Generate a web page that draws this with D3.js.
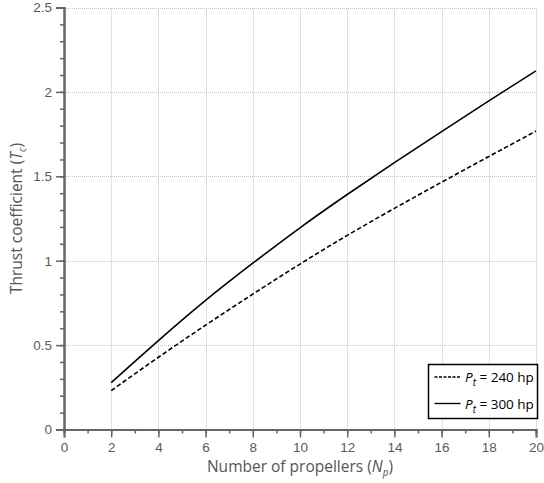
<!DOCTYPE html>
<html>
<head>
<meta charset="utf-8">
<script src="https://cdn.jsdelivr.net/npm/d3@7"></script>
<style>
  body { margin: 0; background: #fff; }
  svg { font-family: "Open Sans", "Noto Sans", sans-serif; }
</style>
</head>
<body>
<svg id="chart" width="544" height="483"></svg>
<script>
// number of propellers
const propellers = [2, 4, 6, 8, 10, 12, 14, 16, 18, 20];
// thrust coefficient, P_t = 240 hp (dashed)
const thrust240 = [0.230, 0.428, 0.618, 0.802, 0.980, 1.150, 1.310, 1.465, 1.617, 1.768];
// thrust coefficient, P_t = 300 hp (solid)
const thrust300 = [0.278, 0.527, 0.765, 0.985, 1.195, 1.392, 1.581, 1.765, 1.947, 2.125];
const xTicks = [0, 2, 4, 6, 8, 10, 12, 14, 16, 18, 20];
const yTicks = [0, 0.5, 1, 1.5, 2, 2.5];
const legendLabels = ["240 hp", "300 hp"];

const svg = d3.select('#chart');
const mLeft = 64, mRight = 536, mTop = 7.5, mBottom = 429.5;

const x = d3.scaleLinear().domain([0, 20]).range([mLeft, mRight]);
const y = d3.scaleLinear().domain([0, 2.5]).range([mBottom, mTop]);

//网格
const grid = svg.append('g').attr('class', 'grid')
    .attr('stroke', '#c4c4c4').attr('stroke-width', 1).attr('stroke-dasharray', '1,1');
grid.selectAll('line.gx').data(xTicks.filter(d => d > 0)).enter()
    .append('line').attr('class', 'gx')
    .attr('x1', d => Math.round(x(d)) + 0.5).attr('x2', d => Math.round(x(d)) + 0.5)
    .attr('y1', mTop).attr('y2', mBottom);
grid.selectAll('line.gy').data(yTicks.filter(d => d > 0)).enter()
    .append('line').attr('class', 'gy')
    .attr('y1', d => Math.round(y(d)) + 0.5).attr('y2', d => Math.round(y(d)) + 0.5)
    .attr('x1', mLeft).attr('x2', mRight);

//坐标轴
const axisColor = '#666';
const xAxis = svg.append('g')
    .attr('transform', `translate(0,${mBottom})`)
    .call(d3.axisBottom(x).tickValues(d3.range(0, 21, 1)).tickSize(4).tickFormat(''));
xAxis.append('g')
    .call(d3.axisBottom(x).tickValues(xTicks).tickSize(8).tickPadding(5).tickFormat(d3.format('d')));
const yAxis = svg.append('g')
    .attr('transform', `translate(${mLeft},0)`)
    .call(d3.axisLeft(y).tickValues(d3.range(0, 2.51, 0.1)).tickSize(4).tickFormat(''));
yAxis.append('g')
    .call(d3.axisLeft(y).tickValues(yTicks).tickSize(8).tickPadding(4).tickFormat(d3.format('')));
svg.selectAll('.domain').attr('stroke', axisColor).attr('stroke-width', 2);
svg.selectAll('.tick line').attr('stroke', axisColor).attr('stroke-width', 1.5);
svg.selectAll('.tick text').attr('fill', '#5a5a5a').style('font-size', '13.5px');

//曲线
const line = d3.line().x((d, i) => x(propellers[i])).y(d => y(d)).curve(d3.curveNatural);
svg.append('path').datum(thrust240)
    .attr('fill', 'none').attr('stroke', '#000').attr('stroke-width', 1.6)
    .attr('stroke-dasharray', '4.5,2.5').attr('d', line);
svg.append('path').datum(thrust300)
    .attr('fill', 'none').attr('stroke', '#000').attr('stroke-width', 1.6)
    .attr('d', line);

//轴标题
svg.append('text')
    .attr('x', (mLeft + mRight) / 2).attr('y', 472)
    .attr('text-anchor', 'middle').attr('fill', '#555').style('font-size', '15.5px')
    .html('Number of propellers (<tspan font-style="italic">N</tspan><tspan font-style="italic" font-size="10px" dy="4">p</tspan><tspan dy="-4">)</tspan>');
svg.append('text')
    .attr('transform', `translate(22,${(mTop + mBottom) / 2}) rotate(-90)`)
    .attr('text-anchor', 'middle').attr('fill', '#555').style('font-size', '15.5px')
    .html('Thrust coefficient (<tspan font-style="italic">T</tspan><tspan font-style="italic" font-size="10px" dy="4">c</tspan><tspan dy="-4">)</tspan>');

//图例
const legend = svg.append('g').attr('transform', 'translate(428.5,364.5)');
legend.append('rect').attr('width', 109).attr('height', 54)
    .attr('fill', '#fff').attr('stroke', '#000').attr('stroke-width', 1.5);
legendLabels.forEach((lab, i) => {
    const ly = 12.5 + i * 26.5;
    legend.append('line').attr('x1', 6).attr('x2', 32).attr('y1', ly).attr('y2', ly)
        .attr('stroke', '#000').attr('stroke-width', 1.4)
        .attr('stroke-dasharray', i === 0 ? '3,1.5' : null);
    legend.append('text').attr('x', 36.5).attr('y', ly + 5)
        .attr('fill', '#000').style('font-size', '13.5px')
        .html(`<tspan font-style="italic">P</tspan><tspan font-style="italic" font-size="10px" dy="4">t</tspan><tspan dy="-4"> = ${lab}</tspan>`);
});
</script>
</body>
</html>
